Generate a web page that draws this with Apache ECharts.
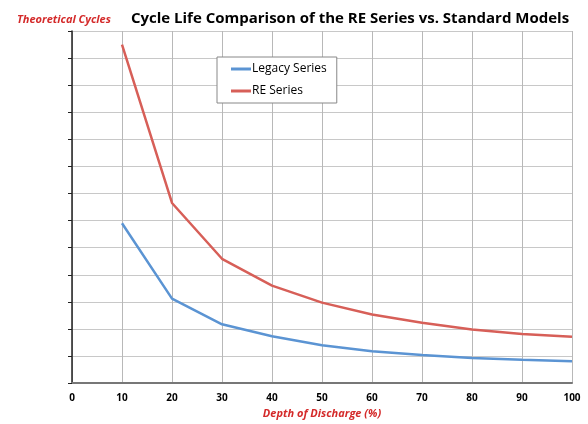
<!DOCTYPE html>
<html>
<head>
<meta charset="utf-8">
<script src="https://cdn.jsdelivr.net/npm/echarts@6/dist/echarts.min.js"></script>
<style>
  html, body { margin: 0; padding: 0; background: #fff; }
  #chart { width: 588px; height: 424px; }
</style>
</head>
<body>
<div id="chart"></div>
<script>
// depth of discharge (%)
var depth = [10, 20, 30, 40, 50, 60, 70, 80, 90, 100];
// theoretical cycles (chart shows no y labels, units of one grid step)
var legacySeries = [5.9, 3.12, 2.17, 1.73, 1.40, 1.18, 1.04, 0.93, 0.86, 0.81];
var reSeries = [12.5, 6.65, 4.59, 3.6, 2.97, 2.53, 2.23, 1.98, 1.81, 1.71];

var pairs = function (ys) {
  return depth.map(function (d, i) { return [d, ys[i]]; });
};

var mychart = echarts.init(document.getElementById('chart'));
mychart.setOption({
  animation: false,
  textStyle: { fontFamily: 'Open Sans' },
  title: [
    {
      text: 'Cycle Life Comparison of the RE Series vs. Standard Models',
      left: 345,
      textAlign: 'center',
      top: 6,
      textStyle: { fontSize: 15, fontWeight: 'bold', color: '#000', fontFamily: 'Open Sans' }
    },
    {
      text: 'Theoretical Cycles',
      left: 12,
      top: 9,
      textStyle: { fontSize: 11, fontWeight: 'bold', fontStyle: 'italic', color: '#d42a2a', fontFamily: 'Open Sans' }
    }
  ],
  legend: {
    orient: 'vertical',
    left: 217,
    top: 57,
    padding: [6, 10, 6, 14],
    itemGap: 10,
    itemWidth: 20,
    itemHeight: 3,
    icon: 'rect',
    borderColor: '#888',
    borderWidth: 1,
    backgroundColor: '#fff',
    textStyle: { fontSize: 12, color: '#000', padding: [0, 0, 0, -4] },
    data: ['Legacy Series', 'RE Series']
  },
  grid: { left: 72, right: 16, top: 31, bottom: 39, containLabel: false },
  xAxis: {
    type: 'value',
    min: 0,
    max: 100,
    interval: 10,
    name: 'Depth of Discharge (%)',
    nameLocation: 'middle',
    nameGap: 24,
    nameTextStyle: { fontSize: 11, fontWeight: 'bold', fontStyle: 'italic', color: '#d42a2a' },
    axisLine: { lineStyle: { color: '#777', width: 2 } },
    axisTick: { show: false },
    axisLabel: { fontSize: 10, fontWeight: 'bold', color: '#000', margin: 10 },
    splitLine: { show: true, lineStyle: { color: '#b8b8b8', width: 1 } }
  },
  yAxis: {
    type: 'value',
    min: 0,
    max: 13,
    interval: 1,
    axisLine: { show: true, lineStyle: { color: '#222', width: 1.5 } },
    axisTick: { show: true, inside: false, length: 4, lineStyle: { color: '#222' } },
    axisLabel: { show: false },
    splitLine: { show: true, lineStyle: { color: '#c8c8c8', width: 1 } }
  },
  series: [
    {
      name: 'Legacy Series',
      type: 'line',
      symbol: 'none',
      color: '#5b94d3',
      lineStyle: { width: 2.5, color: '#5b94d3' },
      data: pairs(legacySeries)
    },
    {
      name: 'RE Series',
      type: 'line',
      symbol: 'none',
      color: '#d75f58',
      lineStyle: { width: 2.5, color: '#d75f58' },
      data: pairs(reSeries)
    }
  ]
});
window.onresize = mychart.resize;
</script>
</body>
</html>
